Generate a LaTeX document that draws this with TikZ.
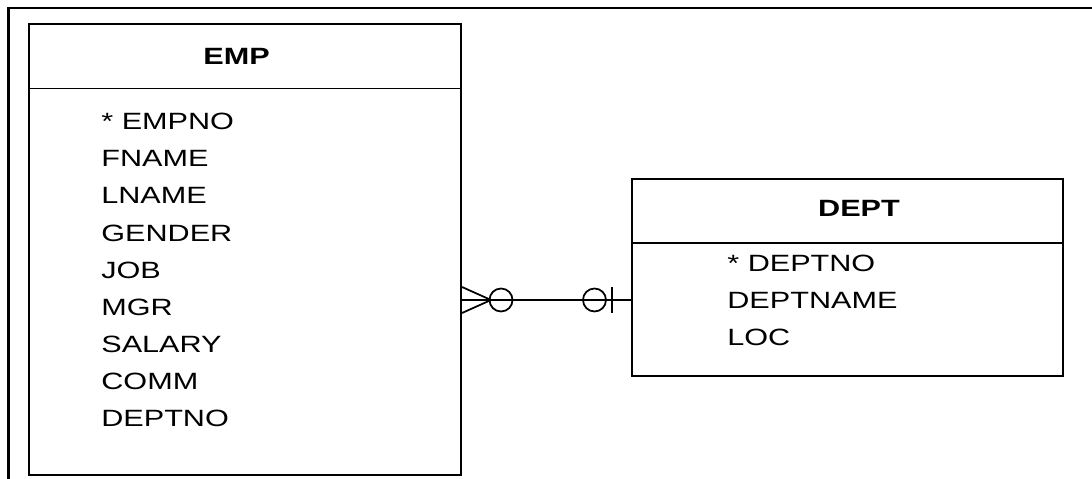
\documentclass[tikz,border=0pt]{standalone}
\usepackage{fontspec}
\setmainfont{Liberation Sans}[FakeStretch=1.3]
\usetikzlibrary{positioning}

\begin{document}
\begin{tikzpicture}[x=0.02cm,y=-0.02cm,line width=.42pt,font=\fontsize{13.4}{16}\selectfont,
 every node/.style={inner sep=0pt},
 entity/.style={draw,line width=1.2pt,fill=white},
 attr/.style={anchor=west},
 hdr/.style={font=\fontsize{13.4}{16}\selectfont\bfseries},
 rel/.style={line width=1pt}]
\useasboundingbox (0,0) rectangle (1092,479);
% outer frame, only top and left edges in view
\draw[line width=1.2pt] (8.5,479) -- (8.5,8) -- (1092,8);
\begin{scope}
 \node[entity,minimum width=8.64cm,minimum height=9.02cm] (emp) at (245,249.5) {};
 \draw[line width=1.1pt] (emp.west |- 0,88.5) -- (emp.east |- 0,88.5);
 \node[hdr] (emp-h) at (236.5,56) {EMP};
 \foreach \attr [count=\i from 0] in {* EMPNO,FNAME,LNAME,GENDER,JOB,MGR,SALARY,COMM,DEPTNO}
   \node[attr] (emp-a\i) at (101,121.7+37.1*\i) {\attr};
\end{scope}
\begin{scope}
 \node[entity,minimum width=8.62cm,minimum height=3.94cm] (dept) at (847.5,277.5) {};
 \draw[line width=1.1pt] (dept.west |- 0,243) -- (dept.east |- 0,243);
 \node[hdr] (dept-h) at (859,208) {DEPT};
 \foreach \attr [count=\i from 0] in {* DEPTNO,DEPTNAME,LOC}
   \node[attr] (dept-a\i) at (727,263.5+37.1*\i) {\attr};
\end{scope}
% many-optional to one-optional
\coordinate (empfk) at (emp.east |- 0,300);
\coordinate (deptpk) at (dept.west |- 0,300);
\draw[rel] (empfk) -- (deptpk);
\draw[rel] (empfk) ++(0,-13) -- ++(29,13) -- ++(-29,13);
\draw[rel] (empfk) ++(39,0) circle [radius=.23cm];
\draw[rel] (deptpk) ++(-36.5,0) circle [radius=.23cm];
\draw[rel] (deptpk) ++(-19,-13) -- ++(0,26);
\end{tikzpicture}
\end{document}
